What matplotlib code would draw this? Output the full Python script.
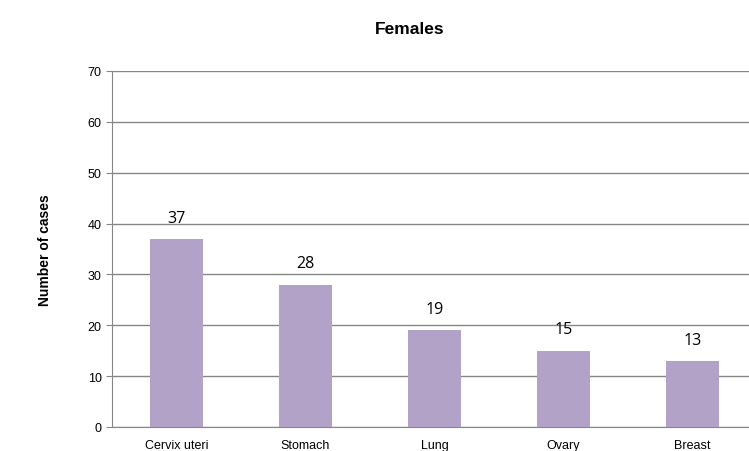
import matplotlib.pyplot as plt
import numpy as np

sites = ["Cervix uteri", "Stomach", "Lung", "Ovary", "Breast"]
cases = [37, 28, 19, 15, 13]
yticks = [0, 10, 20, 30, 40, 50, 60, 70]

plt.rcParams["font.family"] = ["Liberation Sans", "DejaVu Sans"]

fig = plt.figure(figsize=(7.49, 4.52), dpi=100)
ax = fig.add_axes([112 / 749, 24 / 452, 645 / 749, 356 / 452])

x = np.arange(len(sites))
ax.bar(x, cases, width=0.41, color="#b2a2c7", zorder=3)
for xi, v in zip(x, cases):
    ax.text(xi, v + 2.6, str(v), ha="center", va="bottom", fontsize=11.5,
            family=["Open Sans", "DejaVu Sans"], color="black")

ax.set_xlim(-0.5, len(sites) - 0.5)
ax.set_ylim(0, 70)
ax.set_yticks(yticks)
ax.set_xticks(x)
ax.set_xticklabels(sites, fontsize=9)
ax.tick_params(axis="y", labelsize=9, length=4, color="#868686")
ax.tick_params(axis="x", length=0, pad=9)
ax.grid(axis="y", color="#868686", linewidth=1, zorder=0)
for s in ["top", "right"]:
    ax.spines[s].set_visible(False)
ax.spines["left"].set_color("#868686")
ax.spines["bottom"].set_color("#868686")

fig.text(410 / 749, 1 - 30 / 452, "Females", ha="center", va="center",
         fontsize=12.5, fontweight="bold")
fig.text(45 / 749, 1 - 250 / 452, "Number of cases", ha="center", va="center",
         rotation=90, fontsize=10, fontweight="bold")

fig.savefig("out.png", dpi=100)
